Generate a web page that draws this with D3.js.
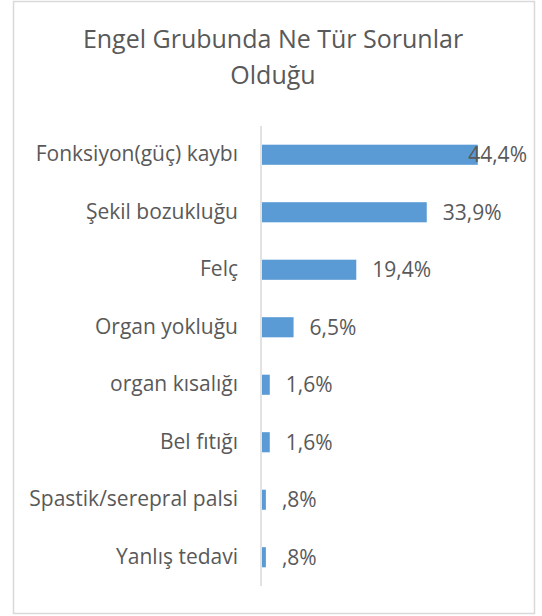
<!DOCTYPE html>
<html>
<head>
<meta charset="utf-8">
<script src="https://cdn.jsdelivr.net/npm/d3@7"></script>
<style>
  body { margin: 0; background: #fff; }
  text { font-family: "Open Sans", sans-serif; }
</style>
</head>
<body>
<div id="chart"></div>
<script>
// data
var categories = ["Fonksiyon(güç) kaybı", "Şekil bozukluğu", "Felç", "Organ yokluğu",
                  "organ kısalığı", "Bel fıtığı", "Spastik/serepral palsi", "Yanlış tedavi"];
var values = [44.4, 33.9, 19.4, 6.5, 1.6, 1.6, 0.8, 0.8];
var valueLabels = ["44,4%", "33,9%", "19,4%", "6,5%", "1,6%", "1,6%", ",8%", ",8%"];
var titleLines = ["Engel Grubunda Ne Tür Sorunlar", "Olduğu"];

var font = { title: 25, label: 21, value: 21 };
var width = 542, height = 616;
var textColor = "#595959";

var svg = d3.select("#chart").append("svg")
    .attr("width", width)
    .attr("height", height);

// outer frame
svg.append("rect")
    .attr("x", 13.5).attr("y", 1.5)
    .attr("width", 521).attr("height", 612)
    .attr("fill", "#fff")
    .attr("stroke", "#d9d9d9")
    .attr("stroke-width", 1.5);

var titleGroup = svg.append("g");
titleLines.forEach(function(t, i){
    titleGroup.append("text")
        .attr("x", 273)
        .attr("y", 48 + i * 36)
        .attr("text-anchor", "middle")
        .attr("font-size", font.title)
        .attr("fill", textColor)
        .text(t);
});

var x = d3.scaleLinear().domain([0, 50]).range([262, 505]);
var y = d3.scaleBand().domain(categories).range([126, 586]).paddingInner(0.65).paddingOuter(0.325);

// category axis
var yAxis = svg.append("g")
    .attr("class", "axis axis--y")
    .attr("transform", "translate(" + 261 + ",0)")
    .call(d3.axisLeft(y).tickSize(0).tickPadding(23));
yAxis.attr("font-family", null).attr("font-size", null);
yAxis.select(".domain").attr("stroke", "#d9d9d9").attr("stroke-width", 1.5)
    .attr("d", "M0,126V586");
yAxis.selectAll(".tick text")
    .attr("font-size", font.label)
    .attr("fill", textColor);

var barGroup = svg.append("g");
barGroup.selectAll("rect")
    .data(values).enter()
    .append("rect")
        .attr("x", x(0))
        .attr("y", function(d, i){ return y(categories[i]); })
        .attr("width", function(d){ return x(d) - x(0); })
        .attr("height", y.bandwidth())
        .attr("fill", "#5b9bd5");

var rightLimit = 527;
barGroup.selectAll("text")
    .data(values).enter()
    .append("text")
        .text(function(d, i){ return valueLabels[i]; })
        .attr("y", function(d, i){ return y(categories[i]) + y.bandwidth() / 2; })
        .attr("dy", "0.35em")
        .attr("font-size", font.value)
        .attr("fill", textColor)
        .attr("x", function(d){
            var w = this.getComputedTextLength();
            return Math.min(x(d) + 16, rightLimit - w);
        });
</script>
</body>
</html>
